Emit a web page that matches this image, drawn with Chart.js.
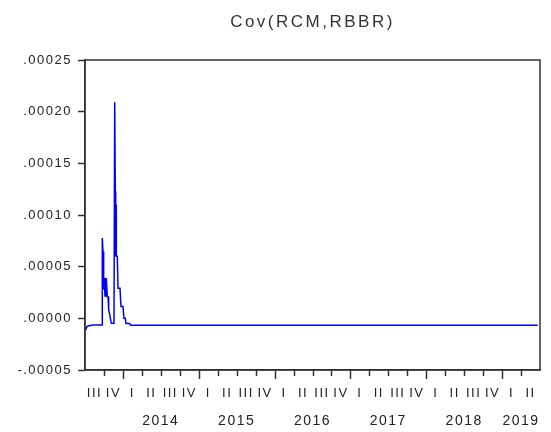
<!DOCTYPE html>
<html><head><meta charset="utf-8">
<script src="https://cdn.jsdelivr.net/npm/chart.js@4.4.0/dist/chart.umd.min.js"></script>
<style>html,body{margin:0;padding:0;background:#fff}</style>
</head><body>
<canvas id="c" width="551" height="432"></canvas>
<script>
const chartTitle = 'Cov(RCM,RBBR)';
// time in decimal years
const times = [2013.5066, 2013.5264, 2013.5396, 2013.6055, 2013.7242, 2013.7281, 2013.7374, 2013.7413,
  2013.7466, 2013.7505, 2013.7545, 2013.7637, 2013.7677, 2013.7769, 2013.7809, 2013.7901, 2013.7941,
  2013.8033, 2013.8125, 2013.8257, 2013.8468, 2013.8824, 2013.8916, 2013.8996, 2013.9048, 2013.9088,
  2013.9127, 2013.9259, 2013.9352, 2013.9615, 2013.9747, 2014.0011, 2014.0143, 2014.0314, 2014.0407,
  2014.0895, 2014.1026, 2019.4697];
const covValues = [-0.0000115, -0.0000080, -0.0000075, -0.0000065, -0.0000064, 0.0000778, 0.0000647, 0.0000280,
  0.0000500, 0.0000280, 0.0000390, 0.0000210, 0.0000390, 0.0000210, 0.0000390, 0.0000390, 0.0000210,
  0.0000210, 0.0000084, 0.0000036, -0.0000048, -0.0000048, 0.0002090, 0.0001230, 0.0000600, 0.0001100,
  0.0000600, 0.0000600, 0.0000290, 0.0000290, 0.0000114, 0.0000114, 0.0000000, 0.0000000, -0.0000049,
  -0.0000049, -0.0000066, -0.0000066];
const quarterLabels = ['III','IV','I','II','III','IV','I','II','III','IV','I','II','III','IV','I','II','III','IV','I','II','III','IV','I','II'];
const yearLabels = ['2014','2015','2016','2017','2018','2019'];
const yearLabelPositions = [2014.5, 2015.5, 2016.5, 2017.5, 2018.5, 2019.25];
const yearStarts = [2014, 2015, 2016, 2017, 2018, 2019];
const yTickValues = [-0.00005, 0, 0.00005, 0.0001, 0.00015, 0.0002, 0.00025];
const xStart = 2013.5, xEnd = 2019.5, quarterStep = 0.25, quarterCount = 24;

const near = (a, b) => Math.abs(a - b) < 1e-6;
function quarterIndex(v) {
  const k = (v - xStart) / quarterStep - 0.5;
  const r = Math.round(k);
  return near(k, r) ? r : -1;
}
function yearIndex(v) { return yearLabelPositions.findIndex(p => near(p, v)); }

const framePlugin = {
  id: 'frame',
  beforeDraw(chart) { chart.ctx.letterSpacing = '1.5px'; },
  afterDraw(chart) {
    const {ctx, chartArea: a} = chart;
    const xs = chart.scales.x;
    ctx.save();
    ctx.strokeStyle = '#333';
    ctx.lineWidth = 1.5;
    ctx.strokeRect(a.left, a.top, a.right - a.left, a.bottom - a.top);
    for (let k = 1; k < quarterCount; k++) {
      const v = xStart + k * quarterStep;
      const isYear = yearStarts.some(y => near(y, v));
      const px = Math.round(xs.getPixelForValue(v)) + 0.5;
      ctx.beginPath();
      ctx.moveTo(px, a.bottom - 1);
      ctx.lineTo(px, a.bottom + (isYear ? 9 : 6));
      ctx.stroke();
    }
    ctx.restore();
  }
};

const chart = new Chart(document.getElementById('c'), {
  type: 'line',
  data: {
    datasets: [{
      data: times.map((t, i) => ({x: t, y: covValues[i]})),
      borderColor: '#0000ff',
      borderWidth: 1.5,
      pointRadius: 0,
      tension: 0,
      fill: false
    }]
  },
  options: {
    responsive: false,
    animation: false,
    layout: {padding: {left: 0, right: 11, top: 0, bottom: 0}},
    plugins: {
      legend: {display: false},
      tooltip: {enabled: false},
      title: {
        display: true, text: chartTitle, fullSize: false, color: '#333',
        font: {family: 'Liberation Sans, Arial, sans-serif', size: 17, weight: 'normal'},
        padding: {top: 12, bottom: 27.6}
      }
    },
    scales: {
      x: {
        type: 'linear', min: xStart, max: xEnd,
        afterBuildTicks: s => {
          const vals = [];
          for (let k = 0; k < quarterLabels.length; k++) vals.push(xStart + (k + 0.5) * quarterStep);
          yearLabelPositions.forEach(p => { if (!vals.some(v => near(v, p))) vals.push(p); });
          vals.sort((a, b) => a - b);
          s.ticks = vals.map(v => ({value: v}));
        },
        afterFit: s => { s.height = 62; },
        grid: {drawOnChartArea: false, drawTicks: false},
        border: {display: true, color: '#333', width: 1.5},
        ticks: {
          autoSkip: false, maxRotation: 0, minRotation: 0, padding: 9, color: '#222',
          font: ctx => (ctx.tick && yearIndex(ctx.tick.value) >= 0)
            ? {family: 'Liberation Sans, Arial, sans-serif', size: 14, lineHeight: '28px'}
            : {family: 'Liberation Sans, Arial, sans-serif', size: 13, lineHeight: '28px'},
          callback: v => {
            const q = quarterIndex(v);
            if (q >= 0 && q < quarterLabels.length) return quarterLabels[q];
            const y = yearIndex(v);
            if (y >= 0) return ['', yearLabels[y]];
            return '';
          }
        }
      },
      y: {
        type: 'linear', min: -0.00005, max: 0.00025,
        afterBuildTicks: s => { s.ticks = yTickValues.map(v => ({value: v})); },
        afterFit: s => { s.width = 85; },
        grid: {drawOnChartArea: false, drawTicks: true, tickLength: 7, tickWidth: 1.5, tickColor: '#333'},
        border: {display: true, color: '#333', width: 1.5},
        ticks: {
          padding: 6, color: '#222',
          font: {family: 'Liberation Sans, Arial, sans-serif', size: 13},
          callback: v => {
            if (Math.abs(v) < 1e-12) return '.00000';
            return v.toFixed(5).replace('0.', '.');
          }
        }
      }
    }
  },
  plugins: [framePlugin]
});
// wider letter spacing for the title only
const tb = chart.titleBlock;
if (tb) {
  const origDraw = tb.draw.bind(tb);
  tb.draw = function(area) {
    const c = this.ctx; const prev = c.letterSpacing;
    c.letterSpacing = '2.5px'; origDraw(area); c.letterSpacing = prev;
  };
  chart.draw();
}
</script>
</body></html>
